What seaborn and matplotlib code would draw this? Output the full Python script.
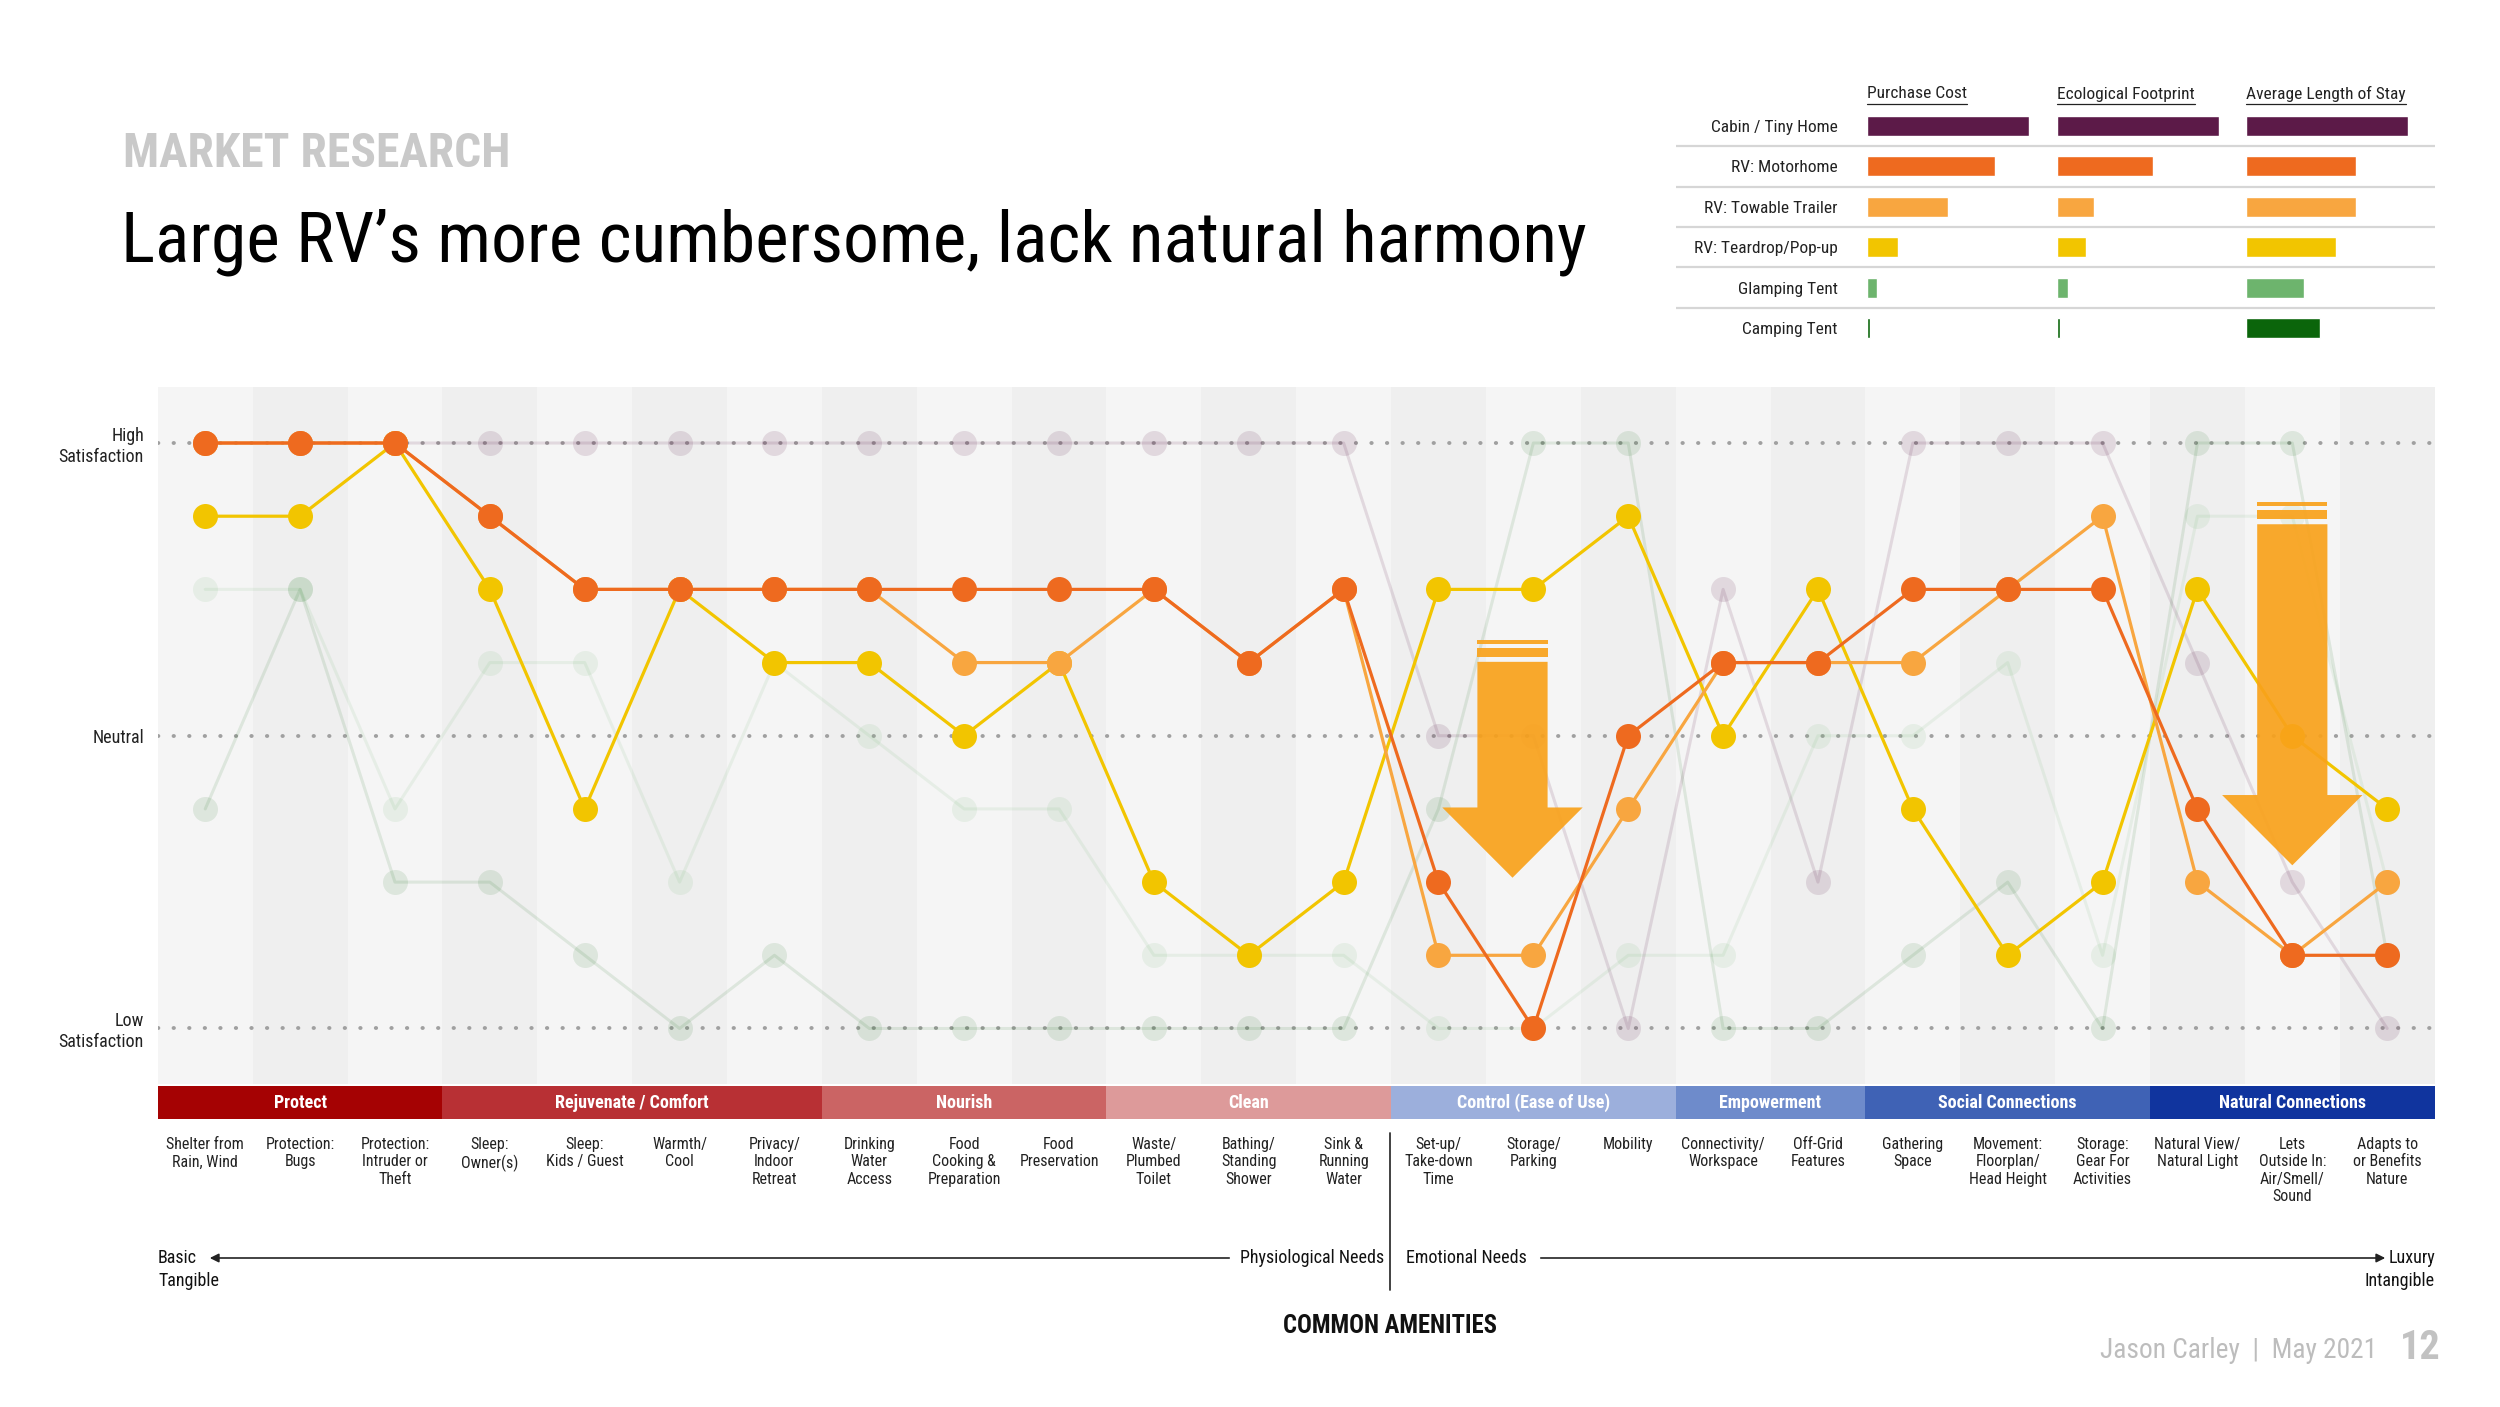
import numpy as np
import pandas as pd
import matplotlib
matplotlib.use("Agg")
import matplotlib.pyplot as plt
import matplotlib.font_manager as fm
from matplotlib.patches import Polygon, Rectangle, FancyArrowPatch
from matplotlib.lines import Line2D
import seaborn as sns

# amenities along the x axis
amenities = ["Shelter from\nRain, Wind", "Protection:\nBugs", "Protection:\nIntruder or\nTheft",
             "Sleep:\nOwner(s)", "Sleep:\nKids / Guest", "Warmth/\nCool", "Privacy/\nIndoor\nRetreat",
             "Drinking\nWater\nAccess", "Food\nCooking &\nPreparation", "Food\nPreservation",
             "Waste/\nPlumbed\nToilet", "Bathing/\nStanding\nShower", "Sink &\nRunning\nWater",
             "Set-up/\nTake-down\nTime", "Storage/\nParking", "Mobility", "Connectivity/\nWorkspace",
             "Off-Grid\nFeatures", "Gathering\nSpace", "Movement:\nFloorplan/\nHead Height",
             "Storage:\nGear For\nActivities", "Natural View/\nNatural Light",
             "Lets\nOutside In:\nAir/Smell/\nSound", "Adapts to\nor Benefits\nNature"]

groups = ["Protect", "Rejuvenate / Comfort", "Nourish", "Clean", "Control (Ease of Use)",
          "Empowerment", "Social Connections", "Natural Connections"]
group_sizes = [3, 4, 3, 3, 3, 2, 3, 3]
group_colors = ["#A50203", "#B83034", "#CB6464", "#DD9A9A", "#9CAFDC", "#6E8BCB", "#3F62B5", "#10349E"]

home_types = ["Cabin / Tiny Home", "RV: Motorhome", "RV: Towable Trailer",
              "RV: Teardrop/Pop-up", "Glamping Tent", "Camping Tent"]
home_colors = ["#5C1A48", "#EE6A1F", "#F8A640", "#F2C500", "#6DB46D", "#0B650B"]

# legend table, relative scale 0-10
metrics = ["Purchase Cost", "Ecological Footprint", "Average Length of Stay"]
purchase_cost = [10, 7.9, 5.0, 1.9, 0.6, 0.2]
eco_footprint = [10, 5.9, 2.3, 1.8, 0.65, 0.2]
length_of_stay = [10, 6.8, 6.8, 5.55, 3.55, 4.55]

# satisfaction per amenity: 4 = high, 0 = neutral, -4 = low
cabin = [4, 4, 4, 4, 4, 4, 4, 4, 4, 4, 4, 4, 4, 0, 0, -4, 2, -2, 4, 4, 4, 1, -2, -4]
motorhome = [4, 4, 4, 3, 2, 2, 2, 2, 2, 2, 2, 1, 2, -2, -4, 0, 1, 1, 2, 2, 2, -1, -3, -3]
towable = [4, 4, 4, 3, 2, 2, 2, 2, 1, 1, 2, 1, 2, -3, -3, -1, 1, 1, 1, 2, 3, -2, -3, -2]
teardrop = [3, 3, 4, 2, -1, 2, 1, 1, 0, 1, -2, -3, -2, 2, 2, 3, 0, 2, -1, -3, -2, 2, 0, -1]
glamping = [2, 2, -1, 1, 1, -2, 1, 0, -1, -1, -3, -3, -3, -4, -4, -3, -3, 0, 0, 1, -3, 3, 3, -2]
camping = [-1, 2, -2, -2, -3, -4, -3, -4, -4, -4, -4, -4, -4, -1, 4, 4, -4, -4, -3, -2, -4, 4, 4, -3]

level_ticks = [4, 0, -4]
level_labels = ["High\nSatisfaction", "Neutral", "Low\nSatisfaction"]

scores = {"Cabin / Tiny Home": cabin, "RV: Motorhome": motorhome, "RV: Towable Trailer": towable,
          "RV: Teardrop/Pop-up": teardrop, "Glamping Tent": glamping, "Camping Tent": camping}
df = pd.concat([pd.DataFrame({"pos": range(len(amenities)), "score": v, "type": k})
                for k, v in scores.items()], ignore_index=True)
colors = dict(zip(home_types, home_colors))

sns.set_style("white")
avail = {f.name for f in fm.fontManager.ttflist}
narrow = next((n for n in ["Roboto Condensed", "Liberation Sans Narrow", "Open Sans Condensed"]
               if n in avail), None)
if narrow is None:
    narrow, small = "Liberation Sans", 9.5
else:
    small = 12
plt.rcParams["font.family"] = [narrow, "DejaVu Sans"]
plt.rcParams["lines.dash_capstyle"] = "round"

W, H = 2500, 1407
fig = plt.figure(figsize=(W / 100, H / 100), dpi=100)
fig.patch.set_facecolor("white")


def fx(x):
    return x / W


def fy(y):
    return 1 - y / H


def fit_width(t, target):
    r = fig.canvas.get_renderer()
    w = t.get_window_extent(r).width
    t.set_fontsize(t.get_fontsize() * target / w)


# main chart
x0, x1, ytop, ybot = 157.8, 2434.6, 387.4, 1084.1
ax = fig.add_axes([fx(x0), fy(ybot), (x1 - x0) / W, (ybot - ytop) / H])
ax.set_facecolor("#F5F5F5")
for i in range(len(amenities)):
    if i % 2 == 1:
        ax.axvspan(i - 0.5, i + 0.5, color="#EFEFEF", lw=0, zorder=0.1)

faded = {"Cabin / Tiny Home": 0.13, "Glamping Tent": 0.11, "Camping Tent": 0.1}
for name, a in faded.items():
    sns.lineplot(data=df[df.type == name], x="pos", y="score", color=colors[name], marker="o",
                 markersize=18, markeredgewidth=0, linewidth=2.2, alpha=a, ax=ax,
                 legend=False, zorder=2)
for z, name in enumerate(["RV: Teardrop/Pop-up", "RV: Towable Trailer", "RV: Motorhome"]):
    sns.lineplot(data=df[df.type == name], x="pos", y="score", color=colors[name], marker="o",
                 markersize=18, markeredgewidth=0, linewidth=2.3, ax=ax, legend=False, zorder=3 + z)

ax.set_xlim(-0.5, len(amenities) - 0.5)
ax.set_ylim(-4.76, 4.76)
ax.set_xticks([])
ax.set_yticks(level_ticks)
ax.set_yticklabels(level_labels, fontsize=small + 1, color="#222222")
ax.tick_params(axis="y", length=0, pad=10)
ax.set_xlabel("")
ax.set_ylabel("")
ax.set_axisbelow(True)
ax.grid(True, axis="y", color="#A0A0A0", linestyle=(0, (0.1, 3.9)), linewidth=2.8)
for s in ax.spines.values():
    s.set_visible(False)


def big_arrow(xc, top, body_top, head_base, tip, bw=0.37, hw=0.74, c="#F9A21B"):
    s = top - body_top
    pts = [(xc - bw, body_top), (xc + bw, body_top), (xc + bw, head_base), (xc + hw, head_base),
           (xc, tip), (xc - hw, head_base), (xc - bw, head_base)]
    ax.add_patch(Polygon(pts, closed=True, fc=c, ec="none", alpha=0.92, zorder=7))
    ax.add_patch(Rectangle((xc - bw, top - 0.19 * s), 2 * bw, 0.19 * s, fc=c, ec="none",
                           alpha=0.92, zorder=7))
    ax.add_patch(Rectangle((xc - bw, top - 0.78 * s), 2 * bw, 0.4 * s, fc=c, ec="none",
                           alpha=0.92, zorder=7))


big_arrow(13.78, 1.307, 1.01, -0.98, -1.94)
big_arrow(22.0, 3.195, 2.89, -0.81, -1.77)

# group band + amenity labels
bax = fig.add_axes([fx(x0), fy(1119), (x1 - x0) / W, 33 / H])
bax.set_xlim(-0.5, len(amenities) - 0.5)
bax.set_ylim(0, 1)
start = 0
for g, n, c in zip(groups, group_sizes, group_colors):
    bax.axvspan(start - 0.5, start + n - 0.5, color=c, lw=0)
    bax.text(start + (n - 1) / 2, 0.5, g, color="white", fontsize=small + 1, fontweight="bold",
             ha="center", va="center")
    start += n
bax.set_xticks(range(len(amenities)))
bax.set_xticklabels(amenities, fontsize=small - 0.5, color="#222222", va="top", linespacing=1.2)
bax.tick_params(axis="x", length=0, pad=13)
bax.set_yticks([])
for s in bax.spines.values():
    s.set_visible(False)

# needs scale under the labels
fig.add_artist(Line2D([fx(1390), fx(1390)], [fy(1133), fy(1290)], color="#333333", lw=1.3))
fig.add_artist(FancyArrowPatch((fx(1232), fy(1258)), (fx(207), fy(1258)), transform=fig.transFigure,
                               arrowstyle="-|>", mutation_scale=13, lw=1.2, color="#222222"))
fig.add_artist(FancyArrowPatch((fx(1538), fy(1258)), (fx(2388), fy(1258)), transform=fig.transFigure,
                               arrowstyle="-|>", mutation_scale=13, lw=1.2, color="#222222"))
fs_scale = small + 1
fig.text(fx(158), fy(1258), "Basic", fontsize=fs_scale, ha="left", va="center", color="#111111")
fig.text(fx(158), fy(1281), "Tangible", fontsize=fs_scale, ha="left", va="center", color="#111111")
fig.text(fx(1240), fy(1258), "Physiological Needs", fontsize=fs_scale, ha="left", va="center",
         color="#111111")
fig.text(fx(1406), fy(1258), "Emotional Needs", fontsize=fs_scale, ha="left", va="center",
         color="#111111")
fig.text(fx(2435), fy(1258), "Luxury", fontsize=fs_scale, ha="right", va="center", color="#111111")
fig.text(fx(2435), fy(1281), "Intangible", fontsize=fs_scale, ha="right", va="center", color="#111111")
t_amen = fig.text(fx(1390), fy(1326), "COMMON AMENITIES", fontsize=16, fontweight="bold",
                  ha="center", va="center", color="#111111")
fit_width(t_amen, 215)

# titles
t_sup = fig.text(fx(123), fy(167), "MARKET RESEARCH", fontsize=30, fontweight="bold",
                 ha="left", va="baseline", color="#C9C9C9")
fit_width(t_sup, 386)
t_title = fig.text(fx(121), fy(262), "Large RV\u2019s more cumbersome, lack natural harmony",
                   fontsize=60, ha="left", va="baseline", color="#000000")
fit_width(t_title, 1467)

# footer
t_foot = fig.text(fx(2377), fy(1350), "Jason Carley  |  May 2021", fontsize=20, ha="right",
                  va="center", color="#BDBDBD")
fit_width(t_foot, 276)
t_page = fig.text(fx(2441), fy(1348), "12", fontsize=30, fontweight="bold", ha="right",
                  va="center", color="#C2C2C2")
fit_width(t_page, 41)

# legend table: home types vs purchase cost / footprint / stay
tab_top, tab_bot = 105.8, 348.2
sep = fig.add_axes([fx(1676), fy(tab_bot), (2435 - 1676) / W, (tab_bot - tab_top) / H])
sep.set_xlim(0, 1)
sep.set_ylim(len(home_types) - 0.5, -0.5)
for k in range(len(home_types) - 1):
    sep.axhline(k + 0.5, color="#D6D6D6", lw=1.6)
sep.axis("off")

bar_starts = [1867, 2057, 2246]
r = fig.canvas.get_renderer()
for j, (m, vals, xs) in enumerate(zip(metrics, [purchase_cost, eco_footprint, length_of_stay], bar_starts)):
    bx = fig.add_axes([fx(xs), fy(tab_bot), 162 / W, (tab_bot - tab_top) / H])
    bx.patch.set_alpha(0)
    sns.barplot(x=vals, y=home_types, hue=home_types, palette=home_colors, orient="h", width=0.5,
                ax=bx, legend=False, saturation=1)
    bx.set_xlim(0, 10)
    bx.set_ylim(len(home_types) - 0.5, -0.5)
    bx.set_xticks([])
    bx.set_xlabel("")
    bx.set_ylabel("")
    for s in bx.spines.values():
        s.set_visible(False)
    if j == 0:
        bx.tick_params(axis="y", length=0, pad=21, labelsize=small + 0.5, labelcolor="#222222")
    else:
        bx.set_yticks([])
    th = fig.text(fx(xs), fy(94), m, fontsize=small + 0.5, ha="left", va="center", color="#222222")
    bb = th.get_window_extent(r)
    fig.add_artist(Line2D([bb.x0 / W, bb.x1 / W], [(bb.y0 - 2) / H, (bb.y0 - 2) / H],
                          color="#222222", lw=0.9))

fig.savefig("out.png", dpi=100)
